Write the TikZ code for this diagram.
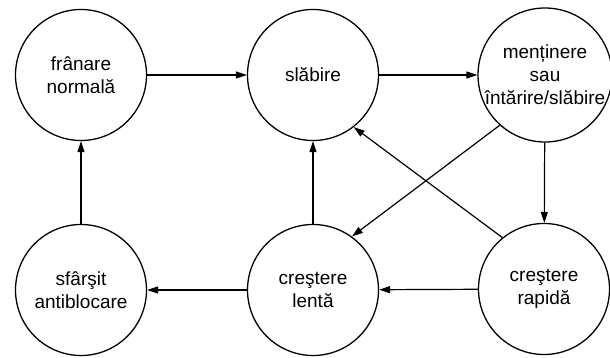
\documentclass[tikz,border=0pt]{standalone}
\usepackage{fontspec}
\setmainfont{Liberation Sans}
\usetikzlibrary{arrows.meta}
\begin{document}
\begin{tikzpicture}[x=1pt,y=-1pt,
  state/.style={circle,draw,line width=1.3pt,minimum size=131pt,inner sep=0pt,
    align=center,font=\fontsize{19}{23}\selectfont},
  flow/.style={line width=1.2pt,-{Triangle[length=11pt,width=7pt]}}]
  \useasboundingbox[fill=white] (0,0) rectangle (610,358);
  % states of the braking cycle
  \node[state] (tl) at (81,75) {frânare\\normală};
  \node[state] (tm) at (313,75) {slăbire};
  \node[state] (tr) at (545,75) {menținere\\sau\\întărire/slăbire};
  \node[state] (bl) at (81,290) {sfârşit\\antiblocare};
  \node[state] (bm) at (313,290) {creştere\\lentă};
  \node[state] (br) at (544,289) {creştere\\rapidă};
  % transitions
  \draw[flow] (tl) -- (tm);
  \draw[flow] (tm) -- (tr);
  \draw[flow] (tr) -- (br);
  \draw[flow] (br) -- (bm);
  \draw[flow] (bm) -- (bl);
  \draw[flow] (bl) -- (tl);
  \draw[flow] (bm) -- (tm);
  \draw[flow] (tr.228) -- (bm.54);
  \draw[flow] (br.129) -- (tm.308);
\end{tikzpicture}
\end{document}
